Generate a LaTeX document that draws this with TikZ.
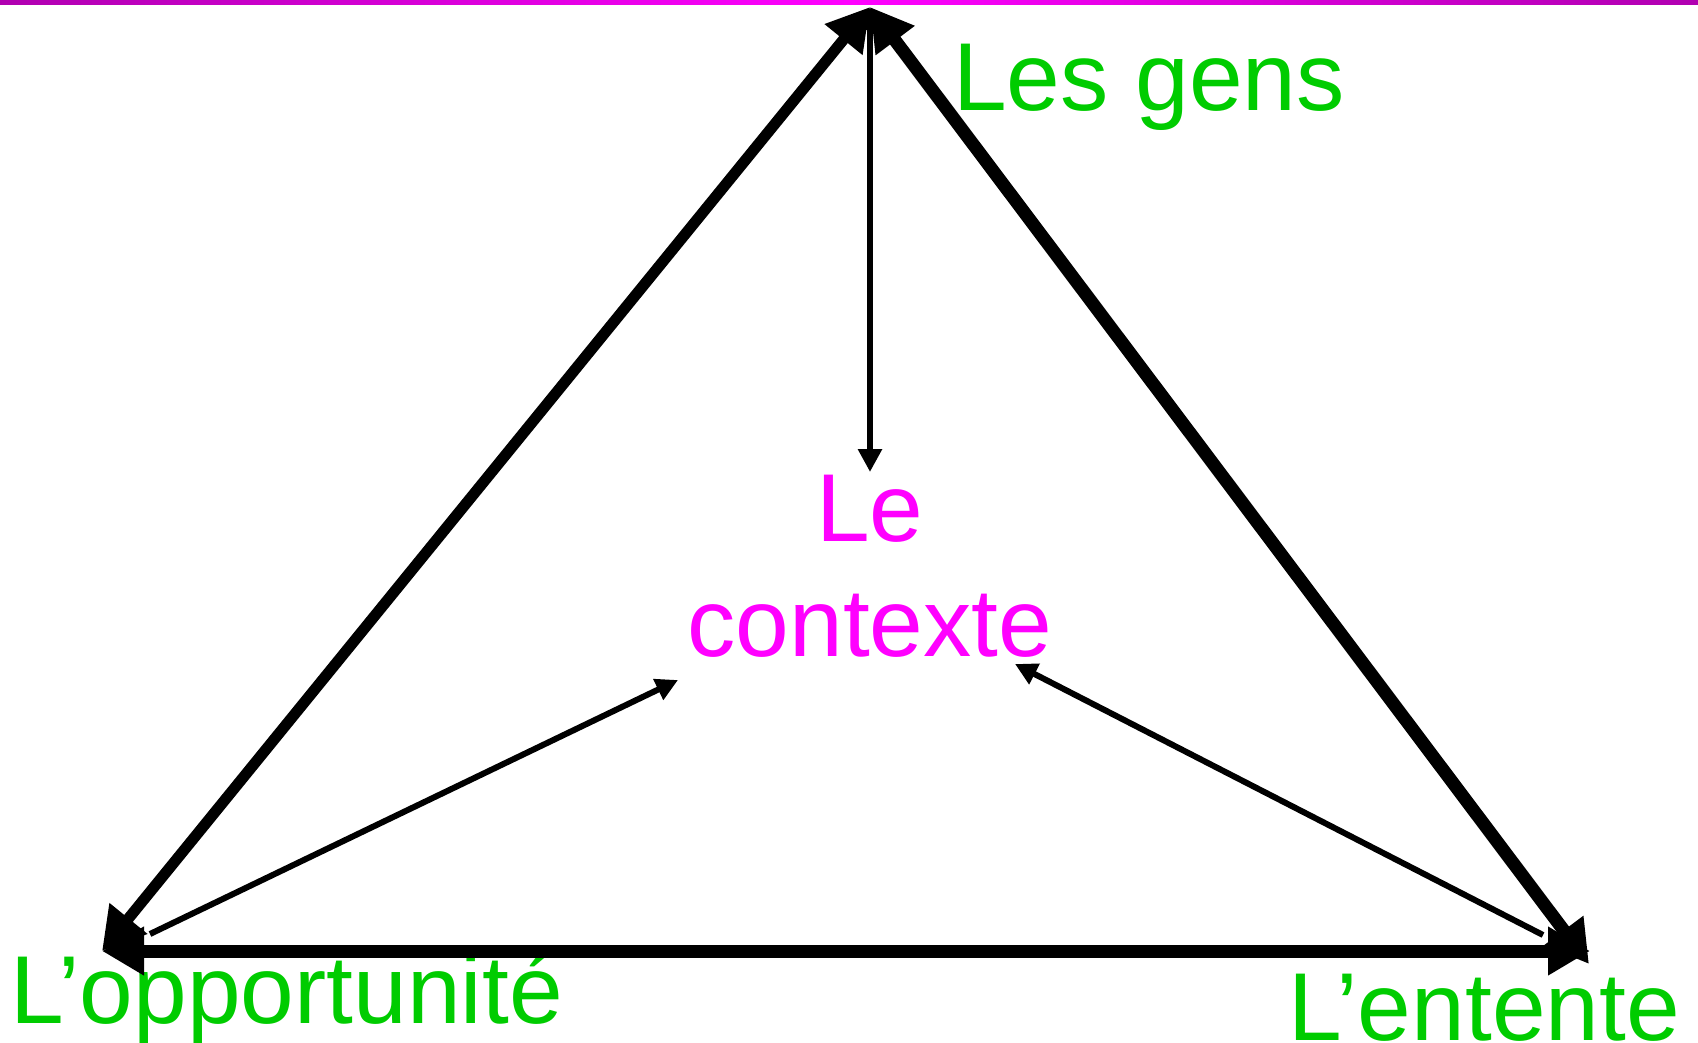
\documentclass[tikz,border=0pt]{standalone}
\usepackage{fontspec}
\setmainfont{Liberation Sans}
\usetikzlibrary{arrows.meta}
\definecolor{lbl}{RGB}{0,204,0}
\definecolor{ctx}{RGB}{255,0,255}
\definecolor{barside}{RGB}{176,0,176}
\tikzset{
  bigarrow/.style={line width=#1, {Triangle[length=42pt,width=46pt]}-{Triangle[length=42pt,width=46pt]}},
  midarrow/.style={line width=6.5pt, {Triangle[length=23pt,width=23pt]}-{Triangle[length=23pt,width=23pt]}},
  thinarrow/.style={line width=6pt, -{Triangle[length=22pt,width=22pt]}},
  greenlbl/.style={inner sep=0pt, anchor=base west, text=lbl, font=\fontsize{96.5}{116}\selectfont},
  ctxlbl/.style={inner sep=0pt, text=ctx, align=center, font=\fontsize{96.5}{115}\selectfont}
}
\begin{document}
\begin{tikzpicture}[x=1pt,y=-1pt]
\useasboundingbox (0,0) rectangle (1698,1042);
\shade[left color=barside, right color=barside, middle color=ctx] (0,0) rectangle (1698,4);
\coordinate (top) at (870,7);
\coordinate (bl) at (102,951);
\coordinate (br) at (1590,951);
\coordinate (brd) at (1589,964);
\coordinate (vend) at (870,472);
\coordinate (lstart) at (150,934);
\coordinate (lend) at (678,680);
\coordinate (rstart) at (1543,935);
\coordinate (rend) at (1015,664);
\node[greenlbl] (gens) at (953,110) {Les gens};
\node[greenlbl] (opp) at (10,1023) {L’opportunité};
\node[greenlbl] (ent) at (1288,1040) {L’entente};
\node[ctxlbl, anchor=base] (le) at (870,541) {Le};
\node[ctxlbl, anchor=base] (ctxt) at (870,656) {contexte};
\draw[bigarrow=13pt] (bl) -- (br);
\draw[bigarrow=11pt] (bl) -- (top);
\draw[bigarrow=13pt] (top) -- (brd);
\draw[midarrow] (top) -- (vend);
\draw[thinarrow] (lstart) -- (lend);
\draw[thinarrow] (rstart) -- (rend);
\end{tikzpicture}
\end{document}
